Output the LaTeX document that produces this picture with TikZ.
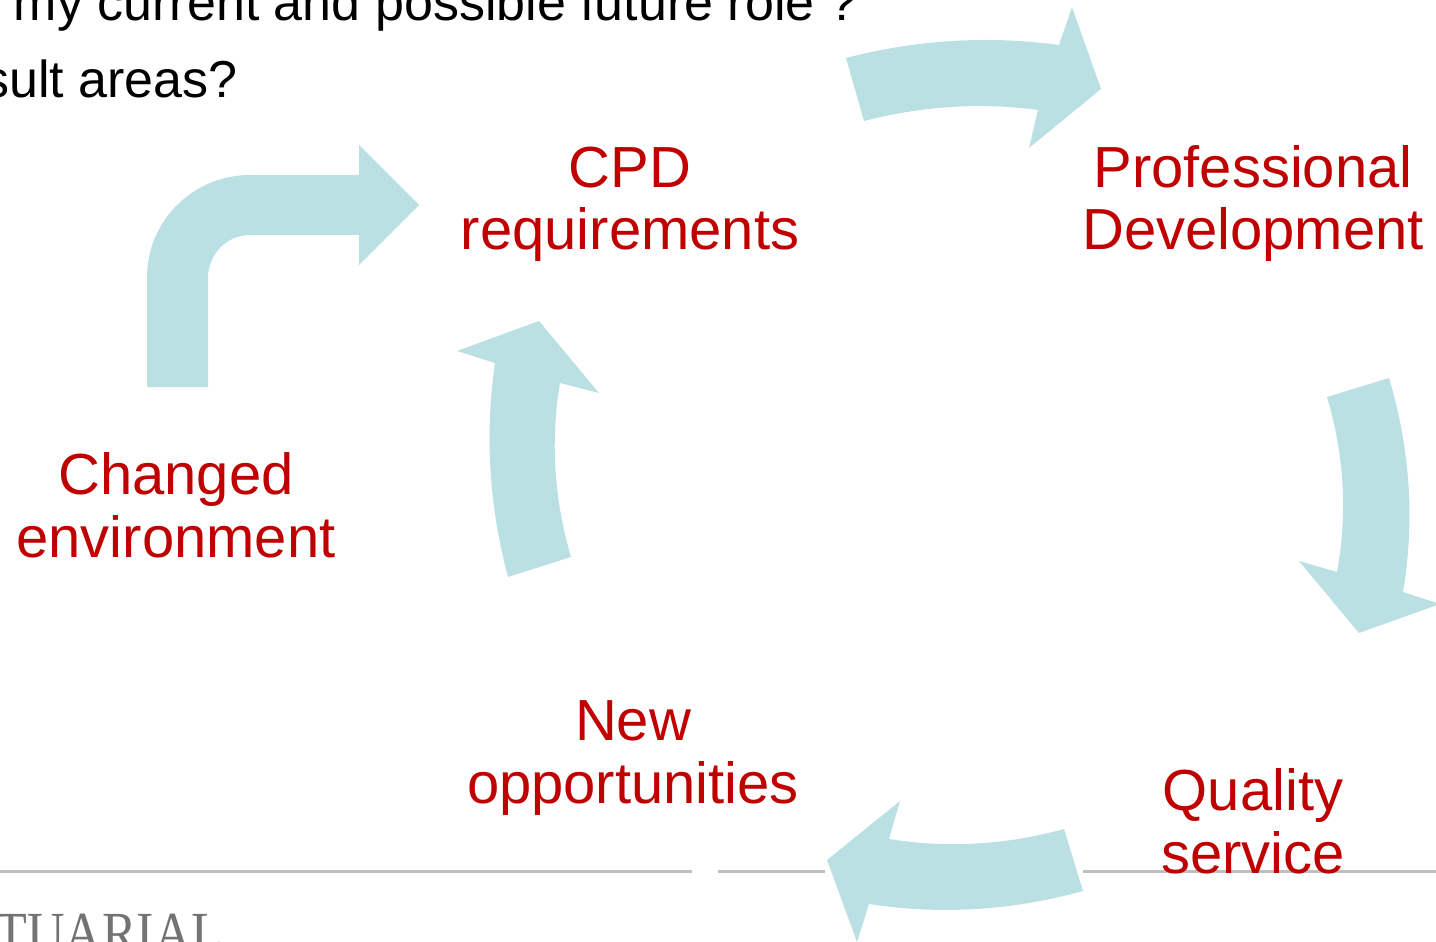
\documentclass[tikz,border=0pt]{standalone}
\usepackage{fontspec}
\setmainfont{Liberation Sans}
\newfontfamily\logofont{Liberation Serif}
\definecolor{cyclefill}{RGB}{187,224,227}
\definecolor{stagered}{RGB}{192,0,0}
\definecolor{rulegray}{RGB}{191,191,191}
\definecolor{logogray}{RGB}{115,115,115}
\begin{document}
\begin{tikzpicture}[x=0.02cm,y=-0.02cm,
	stagetext/.style={text=stagered,align=center,anchor=base,inner sep=0pt,
		font=\fontsize{33}{35.7}\selectfont},
	question/.style={anchor=base west,inner sep=0pt,font=\fontsize{29.6}{33}\selectfont},
	flow/.style={fill=cyclefill},
	rule/.style={draw=rulegray,line width=0.06cm}]
	\useasboundingbox (0,0) rectangle (1436,942);
	\clip (0,0) rectangle (1436,942);
	% questions cut off at the top of the slide
	\path
	(13.6,21)  node[question] (q1) {my current and possible future role ?}
	(-17,98)   node[question] (q2) {sult areas?};
	% footer rule and logo
	\draw[rule] (0,871) -- (692,871);
	\draw[rule] (718,871) -- (825,871);
	\draw[rule] (1083,871) -- (1436,871);
	\node[anchor=base west,inner sep=0pt,text=logogray,xscale=0.87,
		font=\logofont\fontsize{34}{34}\selectfont] (logo) at (-5,953) {TUARIAL};
	% the stages (anchored on the baseline of the second line)
	\path
	(630,250)  node[stagetext] (cpd)  {CPD\\requirements}
	(1253,250) node[stagetext] (prof) {Professional\\Development}
	(1253,873) node[stagetext] (qual) {Quality\\service}
	(633,803)  node[stagetext] (opp)  {New\\opportunities}
	(176,557)  node[stagetext] (env)  {Changed\\environment};
	% bent arrow into CPD
	\fill[flow] (147,387) -- (147,277) .. controls (147,220.7) and (193.3,175) .. (250,175)
		-- (359,175) -- (359,145) -- (419,205) -- (359,265) -- (359,235) -- (250,235)
		.. controls (226.8,235) and (208,254.2) .. (208,278) -- (208,387) -- cycle;
	% top
	\fill[flow] (846,58) .. controls (916.3,39.7) and (987.3,35.3) .. (1059,45)
		-- (1072,7) -- (1101,89) -- (1029,148) -- (1038,110)
		.. controls (980,102.3) and (922,106) .. (864,121) -- cycle;
	% right
	\fill[flow] (1327,397) -- (1389,378) .. controls (1410.3,449.3) and (1415,520.7) .. (1403,592)
		-- (1440,604) -- (1359,633) -- (1299,561) -- (1337,572)
		.. controls (1347.7,513.7) and (1344.3,455.3) .. (1327,397) -- cycle;
	% bottom
	\fill[flow] (1064,829) -- (1083,891) .. controls (1011.7,910.7) and (940.3,915) .. (869,904)
		-- (857,942) -- (827,860) -- (900,801) -- (889,839)
		.. controls (947.3,848.3) and (1005.7,845) .. (1064,829) -- cycle;
	% left
	\fill[flow] (508,577) -- (571,557) .. controls (554,499) and (550.3,441) .. (560,383)
		-- (599,393) -- (539,321) -- (457,351) -- (495,363)
		.. controls (484.7,434.3) and (489,505.7) .. (508,577) -- cycle;
\end{tikzpicture}
\end{document}
